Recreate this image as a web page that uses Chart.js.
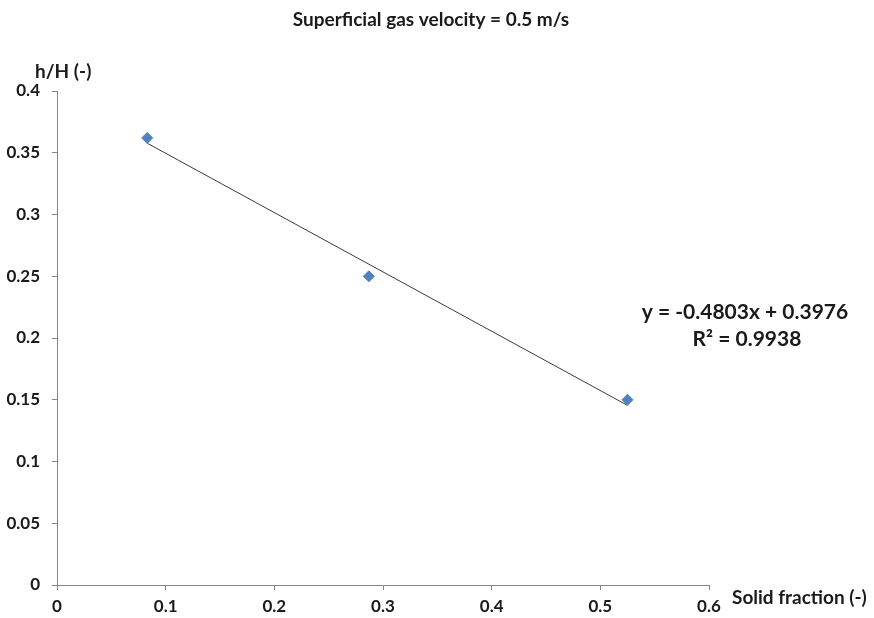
<!DOCTYPE html>
<html>
<head>
<meta charset="utf-8">
<script src="https://cdn.jsdelivr.net/npm/chart.js@4/dist/chart.umd.min.js"></script>
<style>
  html, body { margin: 0; padding: 0; background: #fff; }
  #wrap { width: 874px; height: 618px; position: relative; }
</style>
</head>
<body>
<div id="wrap"><canvas id="c"></canvas></div>
<script>
// measured points
const solidFraction = [0.083, 0.287, 0.525];
const heightRatio = [0.362, 0.250, 0.150];

// linear fit shown on the plot
const fitSlope = -0.4803;
const fitIntercept = 0.3976;
const fitR2 = 0.9938;

const xTicks = [0, 0.1, 0.2, 0.3, 0.4, 0.5, 0.6];
const yTicks = [0, 0.05, 0.1, 0.15, 0.2, 0.25, 0.3, 0.35, 0.4];

const FONT = 'Lato, "Open Sans", sans-serif';
const AXIS = '#868686';
const TEXT = '#1a1a1a';

const points = solidFraction.map((x, i) => ({ x, y: heightRatio[i] }));
const xFirst = solidFraction[0];
const xLast = solidFraction[solidFraction.length - 1];
const fitLine = [xFirst, xLast].map((x) => ({ x, y: fitSlope * x + fitIntercept }));

const labelsPlugin = {
    id: 'labels',
    afterDraw(chart) {
        const { ctx, chartArea } = chart;
        ctx.save();
        ctx.fillStyle = TEXT;
        ctx.textBaseline = 'middle';

        ctx.font = `bold 19px ${FONT}`;
        ctx.textAlign = 'center';
        ctx.fillText('Superficial gas velocity = 0.5 m/s', 431, 20);

        ctx.textAlign = 'left';
        ctx.fillText('h/H (-)', 35, 72);
        ctx.fillText('Solid fraction (-)', chartArea.right + 23, 598);

        ctx.font = `bold 21px ${FONT}`;
        ctx.textAlign = 'center';
        ctx.fillText(`y = ${fitSlope}x + ${fitIntercept}`, 745, 312);
        ctx.fillText(`R\u00b2 = ${fitR2}`, 747, 339);
        ctx.restore();
    },
};

new Chart(document.getElementById('c'), {
    type: 'scatter',
    data: {
        datasets: [
            {
                label: 'h/H',
                data: points,
                pointStyle: 'rectRot',
                pointRadius: 5.5,
                backgroundColor: '#4f81bd',
                borderColor: '#4f81bd',
                borderWidth: 1,
            },
            {
                label: 'fit',
                type: 'line',
                data: fitLine,
                borderColor: '#3a3a3a',
                borderWidth: 1,
                pointRadius: 0,
                fill: false,
            },
        ],
    },
    options: {
        responsive: true,
        maintainAspectRatio: false,
        animation: false,
        layout: { padding: { top: 91, right: 165, left: 0, bottom: 0 } },
        plugins: {
            legend: { display: false },
            tooltip: { enabled: false },
        },
        scales: {
            x: {
                type: 'linear',
                min: 0,
                max: 0.6,
                afterFit(scale) { scale.height = 33; },
                afterBuildTicks(scale) { scale.ticks = xTicks.map((v) => ({ value: v })); },
                grid: { drawOnChartArea: false, color: AXIS, tickLength: 5 },
                border: { color: AXIS },
                ticks: {
                    color: TEXT,
                    font: { family: FONT, size: 17, weight: 'bold' },
                    padding: 6,
                    maxRotation: 0,
                    callback: (v) => String(Math.round(v * 10) / 10),
                },
            },
            y: {
                type: 'linear',
                min: 0,
                max: 0.4,
                afterFit(scale) { scale.width = 57; },
                afterBuildTicks(scale) { scale.ticks = yTicks.map((v) => ({ value: v })); },
                grid: { drawOnChartArea: false, color: AXIS, tickLength: 5 },
                border: { color: AXIS },
                ticks: {
                    color: TEXT,
                    font: { family: FONT, size: 17, weight: 'bold' },
                    padding: 12,
                    callback: (v) => String(Math.round(v * 100) / 100),
                },
            },
        },
    },
    plugins: [labelsPlugin],
});
</script>
</body>
</html>
